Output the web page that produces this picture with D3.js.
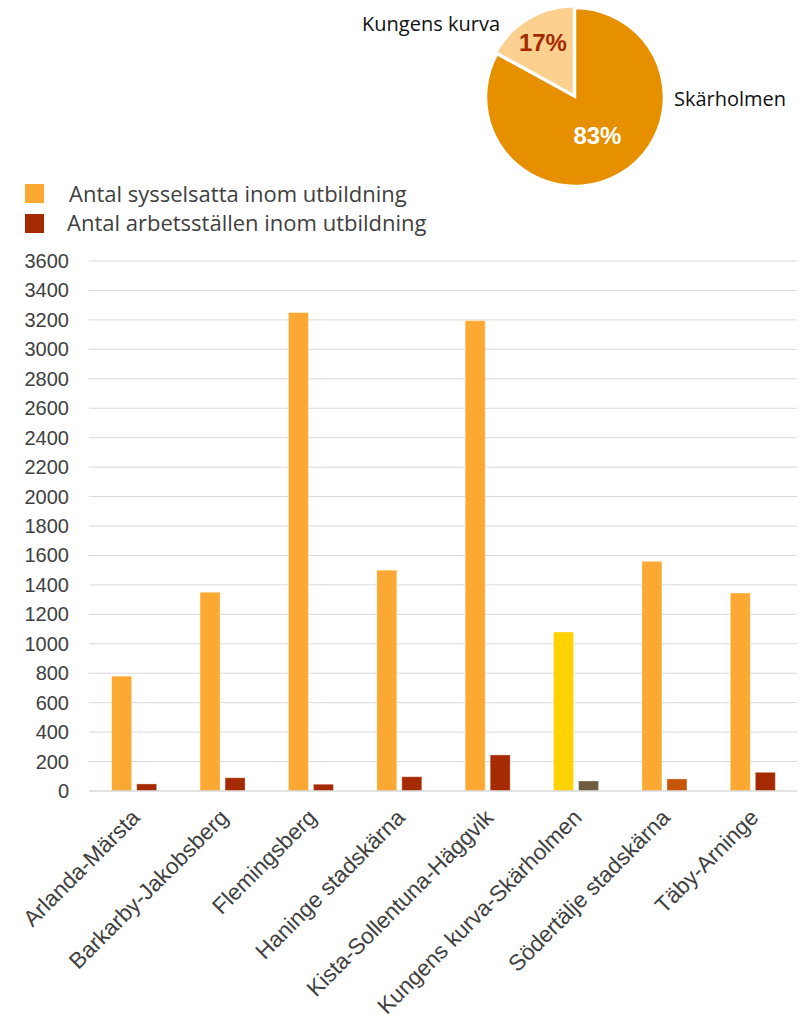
<!DOCTYPE html>
<html lang="sv">
<head>
  <meta charset="UTF-8">
  <title>Utbildning per område</title>
  <style>
    body { margin: 0; background: #fff; }
    svg { display: block; }
    .tick-label { font-family: "Liberation Sans", Arial, sans-serif; font-size: 20px; fill: #404040; }
    .x-label { font-family: "Liberation Sans", Arial, sans-serif; font-size: 22.5px; fill: #404040; }
    .legend-label { font-family: "Open Sans", sans-serif; font-size: 22px; fill: #404040; }
    .pie-name { font-family: "Open Sans", sans-serif; font-size: 20px; fill: #111; }
    .pie-pct { font-family: "Liberation Sans", Arial, sans-serif; font-size: 24px; font-weight: bold; }
  </style>
</head>
<body>
  <div id="chart"></div>

  <script src="https://d3js.org/d3.v7.min.js"></script>
  <script>
    // Data
    const categories = [
      "Arlanda-Märsta", "Barkarby-Jakobsberg", "Flemingsberg", "Haninge stadskärna",
      "Kista-Sollentuna-Häggvik", "Kungens kurva-Skärholmen", "Södertälje stadskärna", "Täby-Arninge"
    ];
    const seriesNames = ["Antal sysselsatta inom utbildning", "Antal arbetsställen inom utbildning"];
    const sysselsatta = [780, 1350, 3250, 1500, 3195, 1080, 1560, 1345];
    const arbetsstallen = [48, 90, 46, 97, 245, 68, 82, 127];
    const yTicks = [0, 200, 400, 600, 800, 1000, 1200, 1400, 1600, 1800, 2000, 2200, 2400, 2600, 2800, 3000, 3200, 3400, 3600];

    // per-bar colours (some points are highlighted in the original)
    const seriesColors = ["#FBA932", "#A52A00"];
    const sysselsattaColors = ["#FBA932", "#FBA932", "#FBA932", "#FBA932", "#FBA932", "#FFD200", "#FBA932", "#FBA932"];
    const arbetsstallenColors = ["#A52A00", "#A52A00", "#A52A00", "#A52A00", "#A52A00", "#6E5D40", "#C65508", "#A52A00"];

    // Pie data
    const pieNames = ["Skärholmen", "Kungens kurva"];
    const pieValues = [83, 17];
    const pieColors = ["#E69000", "#FCD08F"];
    const piePctColors = ["#fff", "#A52A00"];

    const width = 808, height = 1022;
    const svg = d3.select("#chart").append("svg")
      .attr("width", width)
      .attr("height", height);

    // ---------- Pie ----------
    const pieCx = 575, pieCy = 97, pieR = 89;
    const pie = d3.pie().sort(null).value(d => d)(pieValues);
    const arc = d3.arc().innerRadius(0).outerRadius(pieR);
    const pieG = svg.append("g").attr("transform", `translate(${pieCx},${pieCy})`);

    pieG.selectAll("path")
      .data(pie)
      .enter()
      .append("path")
      .attr("d", arc)
      .attr("fill", (d, i) => pieColors[i])
      .attr("stroke", "#fff")
      .attr("stroke-width", 2.5)
      .attr("transform", (d, i) => {
        if (i !== 1) return null;
        // small slice is pulled out a little
        const mid = (d.startAngle + d.endAngle) / 2;
        return `translate(${Math.sin(mid) * 2},${-Math.cos(mid) * 2})`;
      });

    // label distance from centre differs per slice (big slice label sits closer in)
    const labelRadius = [44, 63];
    pieG.selectAll(".pie-pct")
      .data(pie)
      .enter()
      .append("text")
      .attr("class", "pie-pct")
      .attr("text-anchor", "middle")
      .attr("dy", "0.36em")
      .attr("transform", (d, i) => {
        const c = d3.arc().innerRadius(labelRadius[i]).outerRadius(labelRadius[i]).centroid(d);
        return `translate(${c[0]},${c[1]})`;
      })
      .attr("fill", (d, i) => piePctColors[i])
      .text(d => d.data + "%");

    svg.append("text").attr("class", "pie-name")
      .attr("x", 500).attr("y", 31).attr("text-anchor", "end")
      .text(pieNames[1]);
    svg.append("text").attr("class", "pie-name")
      .attr("x", 674).attr("y", 106)
      .text(pieNames[0]);

    // ---------- Legend ----------
    const legend = svg.append("g");
    seriesNames.forEach((name, i) => {
      legend.append("rect")
        .attr("x", 25).attr("y", 184 + i * 30)
        .attr("width", 19).attr("height", 19)
        .attr("fill", seriesColors[i]);
      legend.append("text")
        .attr("class", "legend-label")
        .attr("x", i === 0 ? 69 : 67)
        .attr("y", 202 + i * 29)
        .text(name);
    });

    // ---------- Bars ----------
    const margin = { top: 261, bottom: 791, left: 90, right: 797 };

    const x0 = d3.scaleBand()
      .domain(categories)
      .range([margin.left, margin.right])
      .padding(0);

    const x1 = d3.scaleBand()
      .domain(seriesNames)
      .range([-22.5, 22.5])
      .paddingInner(0.2)
      .paddingOuter(0);

    const y = d3.scaleLinear()
      .domain([0, 3600])
      .range([margin.bottom, margin.top]);

    // gridlines
    svg.append("g")
      .selectAll("line")
      .data(yTicks.filter(t => t > 0))
      .enter()
      .append("line")
      .attr("x1", 89).attr("x2", 797)
      .attr("y1", d => y(d)).attr("y2", d => y(d))
      .attr("stroke", "#d9d9d9")
      .attr("stroke-width", 1);

    // y labels
    svg.append("g")
      .selectAll("text")
      .data(yTicks)
      .enter()
      .append("text")
      .attr("class", "tick-label")
      .attr("x", 69)
      .attr("y", d => y(d))
      .attr("dy", "0.35em")
      .attr("text-anchor", "end")
      .text(d => d);

    const rows = categories.map((c, i) => ({
      cat: c,
      values: [
        { key: seriesNames[0], value: sysselsatta[i], color: sysselsattaColors[i] },
        { key: seriesNames[1], value: arbetsstallen[i], color: arbetsstallenColors[i] }
      ]
    }));

    svg.selectAll(".group")
      .data(rows)
      .enter()
      .append("g")
      .attr("class", "group")
      .attr("transform", d => `translate(${x0(d.cat) + x0.bandwidth() / 2},0)`)
      .selectAll("rect")
      .data(d => d.values)
      .enter()
      .append("rect")
      .attr("x", d => x1(d.key))
      .attr("y", d => y(d.value))
      .attr("width", x1.bandwidth())
      .attr("height", d => y(0) - y(d.value))
      .attr("fill", d => d.color)
      .attr("stroke", "rgba(255,255,255,0.35)")
      .attr("stroke-width", 1);

    // x axis line
    svg.append("line")
      .attr("x1", 89).attr("x2", 797)
      .attr("y1", y(0)).attr("y2", y(0))
      .attr("stroke", "#d9d9d9")
      .attr("stroke-width", 1.5);

    // x labels, rotated
    svg.append("g")
      .selectAll("text")
      .data(categories)
      .enter()
      .append("text")
      .attr("class", "x-label")
      .attr("text-anchor", "end")
      .attr("transform", d => `translate(${x0(d) + x0.bandwidth() / 2 + 7},819) rotate(-45)`)
      .text(d => d);
  </script>
</body>
</html>
